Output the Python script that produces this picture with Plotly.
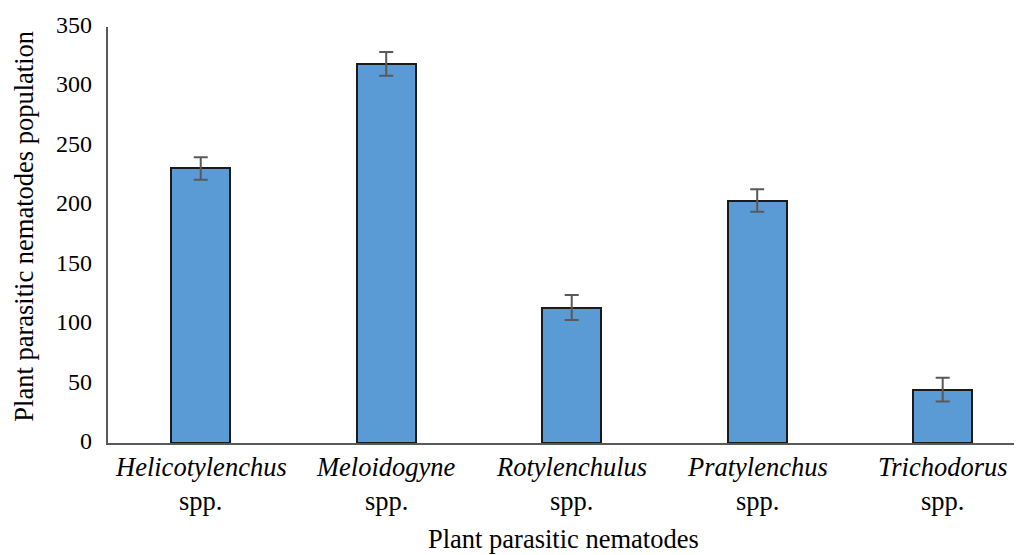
import plotly.graph_objects as go

genera = ["Helicotylenchus", "Meloidogyne", "Rotylenchulus", "Pratylenchus", "Trichodorus"]
suffix = "spp."
population = [231, 319, 114, 204, 45]
errors = [9.5, 10, 10.5, 9.5, 10]
y_ticks = [0, 50, 100, 150, 200, 250, 300, 350]

FONT = "Liberation Serif"
xpos = list(range(len(genera)))

fig = go.Figure()
fig.add_trace(go.Bar(
    x=xpos, y=population, width=0.318,
    marker=dict(color="#5B9BD5", line=dict(color="#1a1a1a", width=2)),
    error_y=dict(type="data", array=errors, visible=True, color="#595959", thickness=2, width=7),
))

# page body has an 8px margin, so the figure is shifted; margins compensate
fig.update_layout(
    width=1022, height=555,
    margin=dict(l=100, r=12, t=19, b=120),
    plot_bgcolor="white", paper_bgcolor="white",
    font=dict(family=FONT, size=23, color="black"),
    showlegend=False,
    bargap=0,
)
fig.update_xaxes(
    range=[-0.5, 4.406], tickmode="array", tickvals=xpos, showticklabels=False,
    showline=True, linecolor="#595959", linewidth=2, showgrid=False, zeroline=False,
    ticks="", automargin=False,
)
fig.update_yaxes(
    range=[0, 350], tickmode="array", tickvals=y_ticks, showticklabels=False,
    showline=True, linecolor="#595959", linewidth=2, showgrid=False, zeroline=False,
    ticks="", automargin=False,
)

# category labels (serif text)
for i, g in enumerate(genera):
    fig.add_annotation(text=f"<i>{g}</i>", xref="x", yref="paper", x=xpos[i], y=-0.0577,
                       xanchor="center", yanchor="middle", showarrow=False,
                       font=dict(family=FONT, size=26.5, color="black"))
    fig.add_annotation(text=suffix, xref="x", yref="paper", x=xpos[i], y=-0.139,
                       xanchor="center", yanchor="middle", showarrow=False,
                       font=dict(family=FONT, size=26.5, color="black"))

# value-axis labels
for v in y_ticks:
    fig.add_annotation(text=str(v), xref="paper", yref="y", x=-0.0158, y=v,
                       xanchor="right", yanchor="middle", yshift=2, showarrow=False,
                       font=dict(family=FONT, size=24, color="black"))

fig.add_annotation(text="Plant parasitic nematodes", xref="paper", yref="paper",
                   x=0.5, y=-0.23, yanchor="middle", showarrow=False,
                   font=dict(family=FONT, size=26.5, color="black"))
fig.add_annotation(text="Plant parasitic nematodes population", xref="paper", yref="paper",
                   x=-0.0923, y=0.52, xanchor="center", yanchor="middle", textangle=-90,
                   showarrow=False, font=dict(family=FONT, size=26.5, color="black"))

fig.write_html("out.html")
